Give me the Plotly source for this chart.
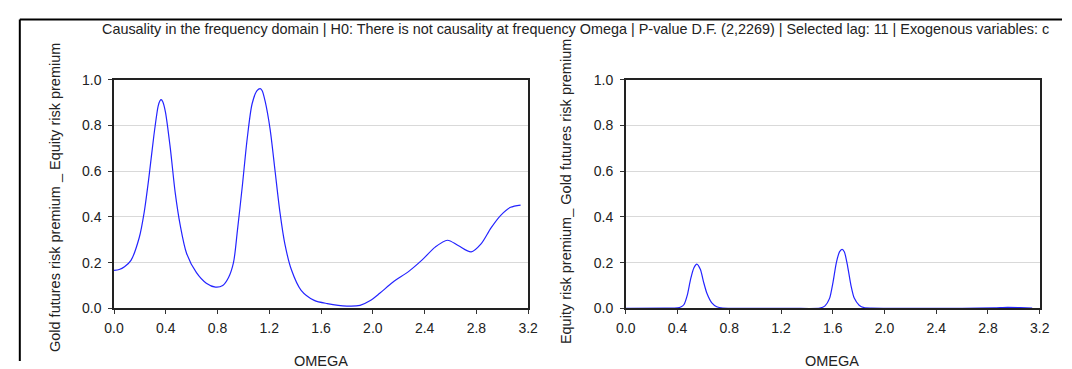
import plotly.graph_objects as go

# ---- data ----
omega_left = [0.0, 0.040, 0.081, 0.131, 0.195, 0.233, 0.270, 0.308, 0.341, 0.355, 0.364, 0.376, 0.397,
              0.435, 0.473, 0.511, 0.561, 0.637, 0.713, 0.784, 0.840, 0.885, 0.923, 0.953, 0.991, 1.029,
              1.067, 1.105, 1.130, 1.145, 1.168, 1.206, 1.244, 1.282, 1.320, 1.370, 1.446, 1.547, 1.648,
              1.800, 1.901, 1.977, 2.053, 2.154, 2.280, 2.381, 2.482, 2.576, 2.659, 2.760, 2.836, 2.912,
              2.988, 3.064, 3.1416]
pval_left = [0.166, 0.170, 0.182, 0.210, 0.310, 0.420, 0.575, 0.756, 0.885, 0.908, 0.913, 0.905, 0.860,
             0.700, 0.505, 0.365, 0.240, 0.156, 0.110, 0.093, 0.100, 0.135, 0.200, 0.338, 0.533, 0.742,
             0.895, 0.952, 0.961, 0.952, 0.905, 0.784, 0.603, 0.421, 0.282, 0.170, 0.079, 0.035, 0.021,
             0.010, 0.013, 0.033, 0.066, 0.114, 0.163, 0.212, 0.268, 0.298, 0.275, 0.247, 0.282, 0.351,
             0.407, 0.442, 0.452]

omega_right = [0.0, 0.30, 0.40, 0.425, 0.450, 0.476, 0.501, 0.526, 0.549, 0.577, 0.602, 0.627,
               0.665, 0.703, 0.75, 1.0, 1.3, 1.50, 1.538, 1.576, 1.602, 1.627, 1.652, 1.672, 1.690,
               1.715, 1.741, 1.766, 1.804, 1.842, 1.90, 2.2, 2.6, 2.85, 2.95, 3.05, 3.1416]
pval_right = [0.0, 0.001, 0.002, 0.006, 0.017, 0.059, 0.128, 0.177, 0.194, 0.170, 0.114, 0.066,
              0.024, 0.007, 0.001, 0.0, 0.0, 0.001, 0.010, 0.045, 0.114, 0.198, 0.247, 0.258, 0.247,
              0.184, 0.100, 0.045, 0.014, 0.003, 0.001, 0.0, 0.0, 0.002, 0.004, 0.003, 0.001]

title_text = ("Causality in the frequency domain | H0: There is not causality at frequency Omega | "
              "P-value D.F. (2,2269) | Selected lag: 11 | Exogenous variables: c")
ytitle_left = "Gold futures risk premium _ Equity risk premium"
ytitle_right = "Equity risk premium_ Gold futures risk premium"
xtitle = "OMEGA"
x_ticks = [0.0, 0.4, 0.8, 1.2, 1.6, 2.0, 2.4, 2.8, 3.2]
y_ticks = [0.0, 0.2, 0.4, 0.6, 0.8, 1.0]

W, H = 1072, 369
FONT = "Liberation Sans, Arial, sans-serif"
LINE = "#2424ff"

fig = go.Figure()
fig.add_trace(go.Scatter(x=omega_left, y=pval_left, mode="lines", xaxis="x", yaxis="y",
                         line=dict(color=LINE, width=1.2, shape="spline", smoothing=0.8),
                         hoverinfo="x+y", showlegend=False))
fig.add_trace(go.Scatter(x=omega_right, y=pval_right, mode="lines", xaxis="x2", yaxis="y2",
                         line=dict(color=LINE, width=1.2, shape="spline", smoothing=0.6),
                         hoverinfo="x+y", showlegend=False))

def xa(domain, anchor):
    return dict(domain=domain, anchor=anchor, range=[0, 3.2], tickvals=x_ticks,
                ticktext=[f"{v:.1f}" for v in x_ticks], ticks="outside", ticklen=4,
                tickcolor="#333", tickwidth=1, showline=True, linecolor="#222", linewidth=1.5,
                mirror=True, showgrid=False, zeroline=False,
                tickfont=dict(family=FONT, size=14, color="#222"), ticklabelstandoff=2)

def ya(domain, anchor):
    return dict(domain=domain, anchor=anchor, range=[0, 1.0], tickvals=y_ticks,
                ticktext=[f"{v:.1f}" for v in y_ticks], ticks="outside", ticklen=4,
                tickcolor="#333", tickwidth=1, showline=True, linecolor="#222", linewidth=1.5,
                mirror=True, showgrid=True, gridcolor="#d9d9d9", gridwidth=1, zeroline=False,
                tickfont=dict(family=FONT, size=14, color="#222"), ticklabelstandoff=4)

ydom = [1 - 314 / H, 1 - 75 / H]
fig.update_layout(
    width=W, height=H, margin=dict(l=0, r=0, t=0, b=0),
    paper_bgcolor="white", plot_bgcolor="white",
    xaxis=xa([106 / W, 528 / W], "y"),
    yaxis=ya(ydom, "x"),
    xaxis2=xa([627.5 / W, 1049.3 / W], "y2"),
    yaxis2=ya(ydom, "x2"),
    font=dict(family=FONT, size=14.5, color="#222"),
)

ann = [
    dict(text=title_text, x=576 / W, y=1 - 22 / H, xref="paper", yref="paper",
         showarrow=False, xanchor="center", yanchor="middle", font=dict(size=14.4)),
    dict(text=ytitle_left, x=46.5 / W, y=1 - 198 / H, xref="paper", yref="paper",
         showarrow=False, textangle=-90, xanchor="center", yanchor="middle"),
    dict(text=ytitle_right, x=566 / W, y=1 - 192 / H, xref="paper", yref="paper",
         showarrow=False, textangle=-90, xanchor="center", yanchor="middle"),
    dict(text=xtitle, x=317 / W, y=1 - 359 / H, xref="paper", yref="paper",
         showarrow=False, xanchor="center", yanchor="top"),
    dict(text=xtitle, x=838 / W, y=1 - 359 / H, xref="paper", yref="paper",
         showarrow=False, xanchor="center", yanchor="top"),
]
fig.update_layout(annotations=ann)

fig.add_shape(type="line", xref="paper", yref="paper", x0=10 / W, x1=1.0, y0=1 - 12 / H, y1=1 - 12 / H,
              line=dict(color="black", width=2))
fig.add_shape(type="line", xref="paper", yref="paper", x0=10 / W, x1=10 / W, y0=0, y1=1 - 12 / H,
              line=dict(color="black", width=2))

fig.write_html("out.html",
               post_script="document.body.style.margin='0';document.body.style.overflow='hidden';")
